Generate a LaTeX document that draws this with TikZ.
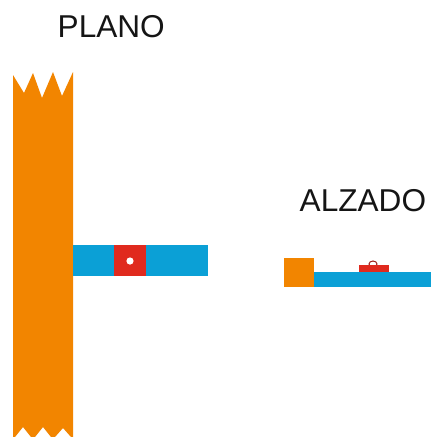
\documentclass[tikz,border=0pt]{standalone}
\usepackage{fontspec}
\setmainfont{Liberation Sans}
\definecolor{wall}{HTML}{F28500}
\definecolor{beam}{HTML}{0BA0D6}
\definecolor{plate}{HTML}{E02A1E}
\definecolor{ink}{HTML}{151515}
\tikzset{
  wallfill/.style={fill=wall,draw=none},
  beamfill/.style={fill=beam,draw=none},
  platefill/.style={fill=plate,draw=none},
  viewlabel/.style={inner sep=0pt,text=ink,font=\fontsize{31.6}{32}\selectfont,anchor=base west}
}
\begin{document}
\begin{tikzpicture}[x=1pt,y=-1pt]
\useasboundingbox[fill=white] (0,0) rectangle (431,437);
\node[viewlabel] (plano) at (57.5,37.5) {PLANO};
\node[viewlabel] (alzado) at (299.5,211) {ALZADO};
% planta
\path[wallfill] (13,75) -- (24,93) -- (33,73) -- (42,98) -- (53,72) -- (62,96) -- (73,72)
  -- (73,437) -- (71,437) -- (63,428) -- (55,437) -- (51,437) -- (43,427) -- (35,437) -- (31,437) -- (23,427) -- (15,437) -- (13,437) -- cycle;
\path[beamfill] (73,245) rectangle (208,276);
\path[platefill] (114,245) rectangle (146,276);
\fill[white] (130,261) circle (3.6);
% alzado
\path[beamfill] (314,272) rectangle (431,287);
\path[wallfill] (284,258) rectangle (314,287);
\draw[plate!70!black,line width=1pt,fill=white] (373,264) ellipse (4 and 3);
\path[platefill] (359,264.5) rectangle (389,272);
\end{tikzpicture}
\end{document}
